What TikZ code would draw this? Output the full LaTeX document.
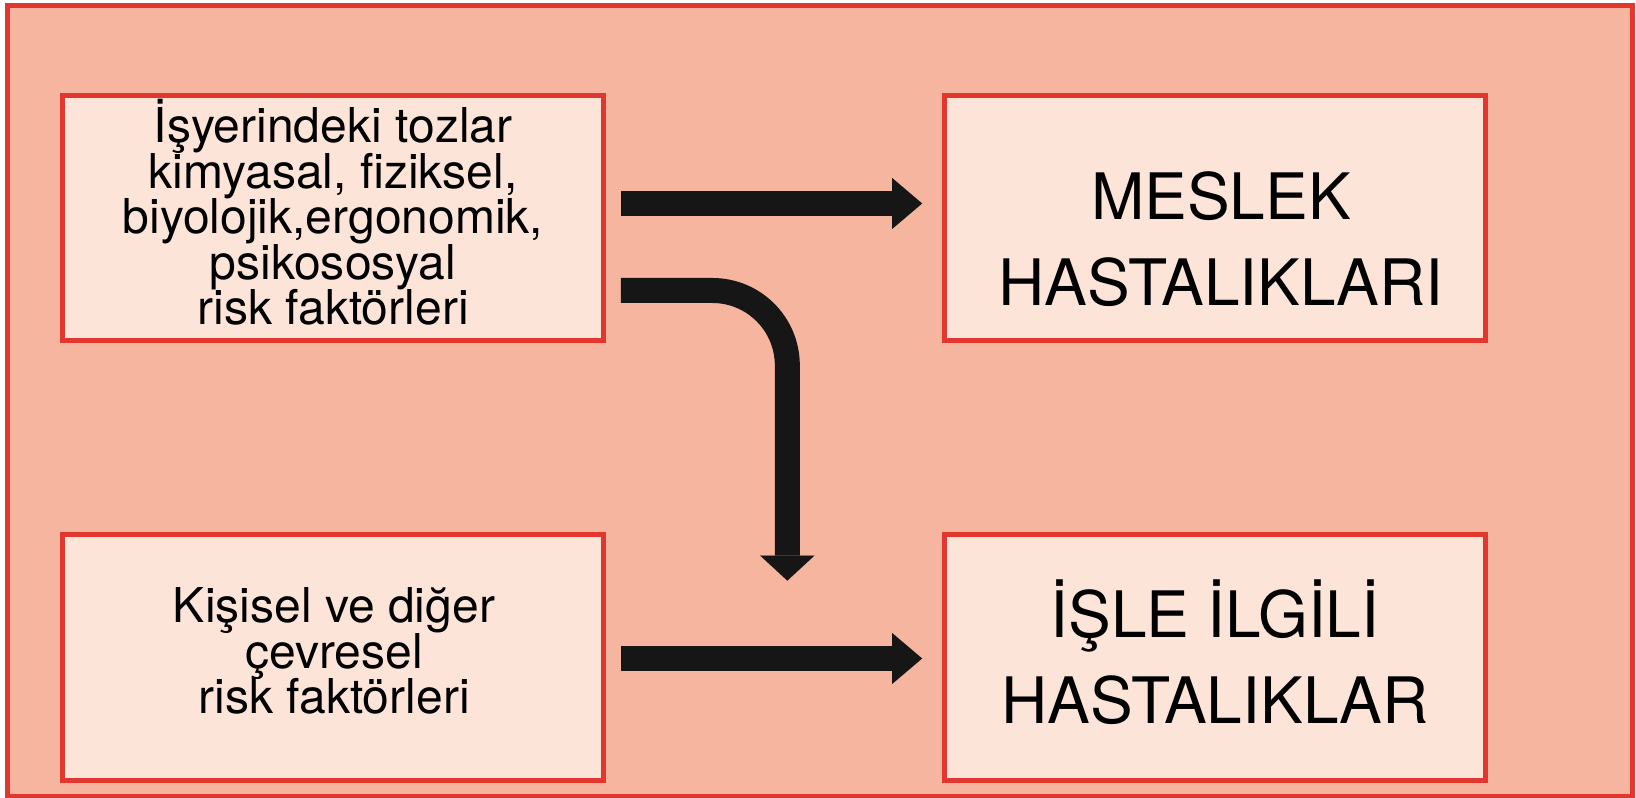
\documentclass[tikz,border=0pt]{standalone}
\usepackage{fontspec}
\setmainfont{TeX Gyre Heros}
\usetikzlibrary{arrows.meta,calc}
\definecolor{bgpink}{HTML}{F5B59E}
\definecolor{boxfill}{HTML}{FDE4D8}
\definecolor{boxred}{HTML}{E2372F}
\definecolor{arrowblack}{HTML}{161616}
\newcommand{\smalltxtfont}{\fontsize{13.66pt}{12.96pt}\selectfont\lineskiplimit=-100pt\relax}
\newcommand{\bigtxtfont}{\fontsize{18.21pt}{24.47pt}\selectfont\lineskiplimit=-100pt\relax}
\begin{document}
\begin{tikzpicture}[x=0.01cm,y=-0.01cm,
  box/.style={draw=boxred, fill=boxfill, line width=1.42pt, minimum width=153.8pt, minimum height=69.9pt, inner sep=0pt, outer sep=0pt},
  smalltxt/.style={align=center, anchor=base, inner sep=0pt, font=\smalltxtfont},
  bigtxt/.style={align=center, anchor=base, inner sep=0pt, font=\bigtxtfont},
  flow/.style={draw=arrowblack, line width=7.11pt, -{Triangle[length=8.54pt,width=14.5pt,line width=0.01pt]}},
  flowdown/.style={draw=arrowblack, line width=7.11pt, rounded corners=21.3pt, -{Triangle[length=7.11pt,width=15.4pt,line width=0.01pt]}},
  ]
\useasboundingbox (0,0) rectangle (1636,798);
\draw[draw=boxred, fill=bgpink, line width=1.42pt] (7.5,5.5) rectangle (1632,796.5);
% boxes
\node[box] (risk) at (333,218) {};
\node[box] (meslek) at (1215,218) {};
\node[box] (kisisel) at (333,657.5) {};
\node[box] (isle) at (1215,657.5) {};
% texts (anchored at the baseline of the last line)
\node[smalltxt] (risklbl) at (333,325) {İşyerindeki tozlar\\kimyasal, fiziksel,\\biyolojik,ergonomik,\\psikososyal\\risk faktörleri};
\node[bigtxt] (mesleklbl) at (1221,306) {MESLEK\\HASTALIKLARI};
\node[smalltxt] (kisisellbl) at (334,714) {Kişisel ve diğer\\çevresel\\risk faktörleri};
\node[bigtxt] (islelbl) at (1215,724) {İŞLE İLGİLİ\\HASTALIKLAR};
% connectors
\coordinate (downend) at ($(isle.north west)+(-157.25,46)$);
\draw[flow] ($(risk.east)+(17.5,-14.5)$) -- ($(meslek.west)+(-22.5,-14.5)$);
\draw[flowdown] ($(risk.east)+(17.5,72.5)$) -| (downend);
\draw[flow] ($(kisisel.east)+(17.5,1)$) -- ($(isle.west)+(-22.5,1)$);
\end{tikzpicture}
\end{document}
